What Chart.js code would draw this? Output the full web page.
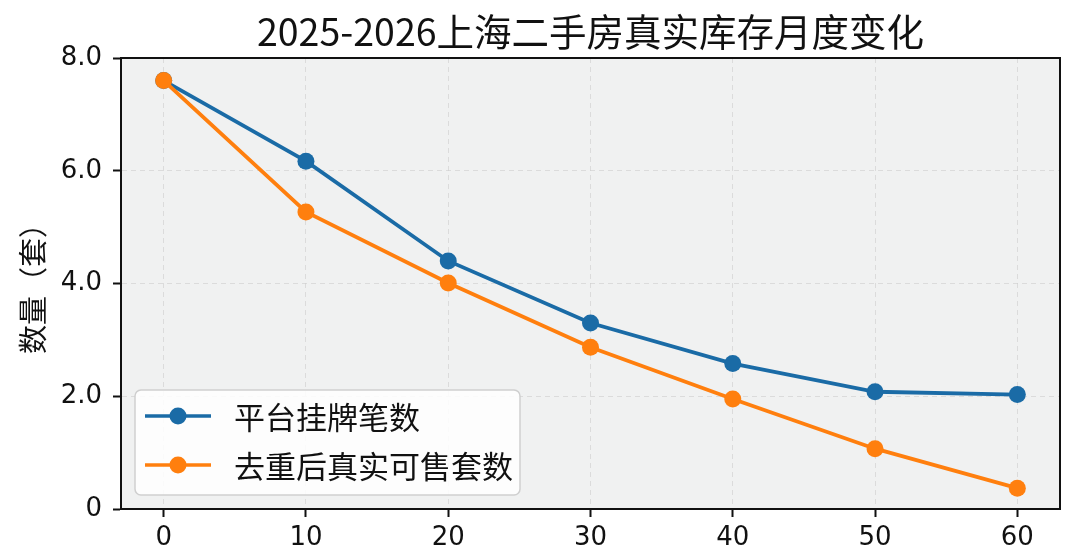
<!DOCTYPE html>
<html>
<head>
<meta charset="utf-8">
<script src="https://cdn.jsdelivr.net/npm/chart.js@4/dist/chart.umd.min.js"></script>
<style>
  html, body { margin: 0; padding: 0; background: #fff; }
  #wrap { width: 1080px; height: 552px; }
</style>
</head>
<body>
<div id="wrap"><canvas id="c" width="1080" height="552"></canvas></div>
<script>
// 上海二手房库存 — values
const TITLE = "2025-2026上海二手房真实库存月度变化";
const Y_TITLE = "数量（套）";
const months = [0, 10, 20, 30, 40, 50, 60];
const listedCount = [7.6, 6.17, 4.40, 3.30, 2.58, 2.08, 2.03];
const realCount = [7.6, 5.27, 4.01, 2.87, 1.95, 1.07, 0.37];
const seriesNames = ["平台挂牌笔数", "去重后真实可售套数"];
const seriesColors = ["#1a6ba6", "#ff7f0e"];
const xTicks = [0, 10, 20, 30, 40, 50, 60];
const yTicks = [0, 2, 4, 6, 8];

const CJK = '"Noto Sans CJK SC", "Noto Sans", sans-serif';
const TICK_FONT = '"DejaVu Sans", "Noto Sans CJK SC", sans-serif';

function toPoints(ys) {
    return months.map((m, i) => ({ x: m, y: ys[i] }));
}

// plot background, frame, title, y title, legend
const decor = {
    id: 'decor',
    beforeDraw(chart) {
        const { ctx, chartArea: a } = chart;
        ctx.save();
        ctx.fillStyle = '#f0f1f1';
        ctx.fillRect(a.left, a.top, a.right - a.left, a.bottom - a.top);
        ctx.restore();
    },
    afterDraw(chart) {
        const { ctx, chartArea: a } = chart;
        ctx.save();
        ctx.strokeStyle = '#111';
        ctx.lineWidth = 2;
        ctx.strokeRect(a.left, a.top, a.right - a.left, a.bottom - a.top);

        // title centred over the plot area
        ctx.fillStyle = '#111';
        ctx.font = '37.5px ' + CJK;
        ctx.textAlign = 'center';
        ctx.textBaseline = 'middle';
        ctx.fillText(TITLE, (a.left + a.right) / 2, 32);

        // y axis title
        ctx.save();
        ctx.translate(33, (a.top + a.bottom) / 2 - 2);
        ctx.rotate(-Math.PI / 2);
        ctx.font = '29px ' + CJK;
        ctx.fillText(Y_TITLE, 0, 0);
        ctx.restore();

        // legend, lower left inside the axes
        const bx = a.left + 14, by = a.bottom - 119, bw = 385, bh = 105;
        ctx.beginPath();
        ctx.roundRect(bx, by, bw, bh, 6);
        ctx.fillStyle = 'rgba(255,255,255,0.85)';
        ctx.fill();
        ctx.strokeStyle = '#cfcfcf';
        ctx.lineWidth = 1.5;
        ctx.stroke();

        ctx.textAlign = 'left';
        ctx.font = '31px ' + CJK;
        chart.data.datasets.forEach((ds, i) => {
            const cy = by + 26 + i * 49;
            ctx.strokeStyle = ds.borderColor;
            ctx.lineWidth = 3.5;
            ctx.beginPath();
            ctx.moveTo(bx + 10, cy);
            ctx.lineTo(bx + 76, cy);
            ctx.stroke();
            ctx.fillStyle = ds.borderColor;
            ctx.beginPath();
            ctx.arc(bx + 43, cy, 8.5, 0, Math.PI * 2);
            ctx.fill();
            ctx.fillStyle = '#111';
            ctx.fillText(ds.label, bx + 99, cy + 1);
        });
        ctx.restore();
    }
};

const datasets = [listedCount, realCount].map((ys, i) => ({
    label: seriesNames[i],
    data: toPoints(ys),
    borderColor: seriesColors[i],
    backgroundColor: seriesColors[i],
    borderWidth: 3.8,
    pointRadius: 8.5,
    pointHoverRadius: 8.5,
    pointBorderWidth: 0,
    tension: 0,
    order: i === 0 ? 1 : 0,   // orange drawn above blue
}));

new Chart(document.getElementById('c'), {
    type: 'line',
    data: { datasets },
    options: {
        responsive: false,
        animation: false,
        devicePixelRatio: 1,
        layout: { padding: { top: 58, right: 20, left: 0, bottom: 0 } },
        plugins: {
            legend: { display: false },
            title: { display: false },
            tooltip: { enabled: false },
        },
        scales: {
            x: {
                type: 'linear',
                min: -3, max: 63,
                afterBuildTicks: s => { s.ticks = xTicks.map(v => ({ value: v })); },
                afterFit: s => { s.height = 43; },
                ticks: {
                    color: '#111', padding: 6,
                    font: { family: TICK_FONT, size: 26 },
                    callback: v => String(v),
                },
                grid: { color: 'rgba(205,205,205,0.6)', lineWidth: 1, tickLength: 8, tickColor: '#111', tickWidth: 2 },
                border: { display: true, color: '#111', width: 2, dash: [5, 4] },
            },
            y: {
                type: 'linear',
                min: 0, max: 8,
                afterBuildTicks: s => { s.ticks = yTicks.map(v => ({ value: v })); },
                afterFit: s => { s.width = 121; },
                ticks: {
                    color: '#111', padding: 11,
                    font: { family: TICK_FONT, size: 26 },
                    callback: v => v === 0 ? '0' : v.toFixed(1),
                },
                grid: { color: 'rgba(205,205,205,0.6)', lineWidth: 1, tickLength: 8, tickColor: '#111', tickWidth: 2 },
                border: { display: true, color: '#111', width: 2, dash: [5, 4] },
            },
        },
    },
    plugins: [decor],
});
</script>
</body>
</html>
